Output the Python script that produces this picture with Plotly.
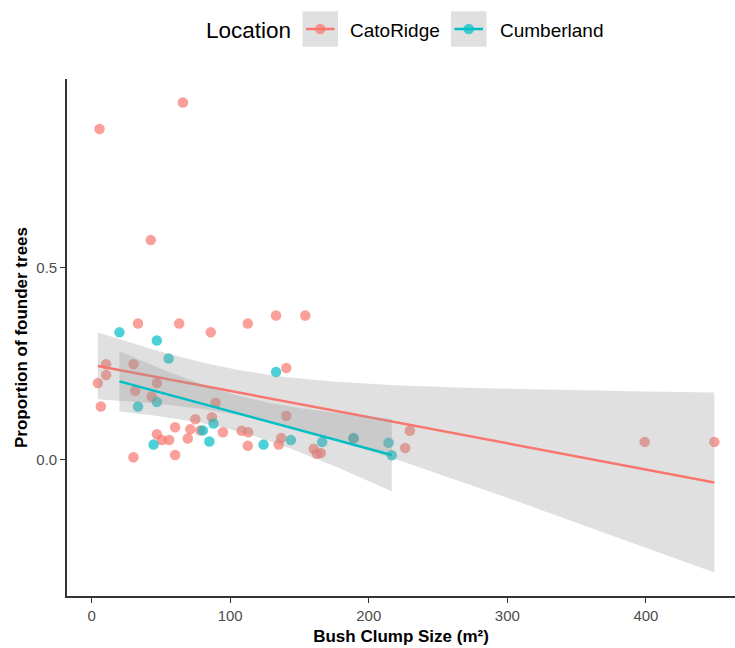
import math
import numpy as np
import plotly.graph_objects as go

# Bush clump size (m²) and proportion of founder trees, per location
cato_size = [5.7, 65.9, 42.7, 33.5, 63.2, 86.0, 112.7, 133.1, 154.2, 140.5,
             10.5, 10.5, 4.5, 6.7, 30.2, 31.5, 47.1, 43.4, 89.4, 60.3,
             47.1, 50.7, 56.0, 30.2, 60.3, 74.8, 86.8, 71.2, 69.4, 78.4,
             94.8, 108.3, 113.0, 112.7, 140.5, 136.8, 135.0, 160.3, 162.6, 165.4,
             189.0, 229.7, 226.3, 399.1, 449.4]
cato_prop = [0.861, 0.930, 0.572, 0.355, 0.355, 0.332, 0.355, 0.376, 0.376, 0.239,
             0.249, 0.221, 0.200, 0.139, 0.249, 0.180, 0.200, 0.165, 0.149, 0.085,
             0.067, 0.052, 0.052, 0.007, 0.013, 0.106, 0.111, 0.080, 0.056, 0.077,
             0.072, 0.076, 0.072, 0.037, 0.115, 0.057, 0.040, 0.029, 0.016, 0.018,
             0.056, 0.076, 0.031, 0.047, 0.047]

cumb_size = [20.1, 47.1, 55.6, 33.5, 47.1, 44.7, 88.0, 80.3, 85.0, 124.1,
             133.1, 143.8, 166.4, 189.0, 214.3, 216.6]
cumb_prop = [0.332, 0.311, 0.264, 0.139, 0.151, 0.040, 0.095, 0.077, 0.048, 0.040,
             0.229, 0.052, 0.047, 0.057, 0.045, 0.012]

locations = ["CatoRidge", "Cumberland"]
colors = {"CatoRidge": "#F8766D", "Cumberland": "#00BFC4"}
point_rgba = {"CatoRidge": "rgba(248,118,109,0.7)", "Cumberland": "rgba(0,191,196,0.7)"}

x_ticks = [0, 100, 200, 300, 400]
y_ticks = [0.0, 0.5]
y_tick_text = ["0.0", "0.5"]

FONT = "Liberation Sans, Arial, sans-serif"
W, H = 735, 648
M_L, M_R, M_T, M_B = 67, 0, 79, 52


def t_quantile(p, df):
    """Student-t quantile by bisection on a numerically integrated CDF."""
    c = math.exp(math.lgamma((df + 1) / 2) - math.lgamma(df / 2)) / math.sqrt(df * math.pi)

    def cdf(t):
        xs = np.linspace(0.0, t, 4001)
        pdf = c * (1 + xs ** 2 / df) ** (-(df + 1) / 2)
        return 0.5 + np.trapezoid(pdf, xs)

    lo, hi = 0.0, 10.0
    for _ in range(60):
        mid = (lo + hi) / 2
        if cdf(mid) < p:
            lo = mid
        else:
            hi = mid
    return (lo + hi) / 2


def lm_band(x, y, n_grid=80, level=0.95):
    """Least-squares line with its confidence band, like geom_smooth(method='lm')."""
    x = np.asarray(x, float)
    y = np.asarray(y, float)
    n = len(x)
    slope, intercept = np.polyfit(x, y, 1)
    resid = y - (intercept + slope * x)
    s = math.sqrt((resid ** 2).sum() / (n - 2))
    xg = np.linspace(x.min(), x.max(), n_grid)
    fit = intercept + slope * xg
    se = s * np.sqrt(1 / n + (xg - x.mean()) ** 2 / ((x - x.mean()) ** 2).sum())
    t = t_quantile(1 - (1 - level) / 2, n - 2)
    return xg, fit, fit - t * se, fit + t * se


def px_x(px):
    """Page pixel column -> paper x."""
    return (px - M_L) / (W - M_L - M_R)


def px_y(py):
    """Page pixel row -> paper y."""
    return (H - M_B - py) / (H - M_T - M_B)


data = {
    "CatoRidge": (cato_size, cato_prop),
    "Cumberland": (cumb_size, cumb_prop),
}

fig = go.Figure()

# points
for loc in locations:
    xs, ys = data[loc]
    fig.add_trace(go.Scatter(
        x=xs, y=ys, mode="markers", name=loc, showlegend=False,
        marker=dict(size=10.5, color=point_rgba[loc], line=dict(width=0)),
        hoverinfo="x+y",
    ))

# fitted lines with confidence ribbons
bands = {}
for loc in locations:
    xs, ys = data[loc]
    xg, fit, lo, hi = lm_band(xs, ys)
    bands[loc] = (lo, hi)
    fig.add_trace(go.Scatter(
        x=np.concatenate([xg, xg[::-1]]), y=np.concatenate([hi, lo[::-1]]),
        mode="lines", fill="toself", fillcolor="rgba(153,153,153,0.3)",
        line=dict(width=0), showlegend=False, hoverinfo="skip",
    ))
    fig.add_trace(go.Scatter(
        x=xg, y=fit, mode="lines", showlegend=False,
        line=dict(color=colors[loc], width=2.5), hoverinfo="skip",
    ))

# y range: data plus ribbons, expanded by 5% either side
all_y = cato_prop + cumb_prop
for lo, hi in bands.values():
    all_y += list(lo) + list(hi)
y_min, y_max = min(all_y), max(all_y)
pad = 0.05 * (y_max - y_min)

x_lo = min(cato_size + cumb_size)
x_hi = max(cato_size + cumb_size)
x_pad = 0.05 * (x_hi - x_lo)

# legend across the top: title, then a grey key with line + point per location
shapes = []
annotations = [dict(
    text="Location", x=px_x(204), y=px_y(30), xref="paper", yref="paper",
    xanchor="left", yanchor="middle", showarrow=False,
    font=dict(family=FONT, size=22.5, color="black"),
)]
key_left = {"CatoRidge": 302.5, "Cumberland": 451.0}
label_left = {"CatoRidge": 348.0, "Cumberland": 498.0}
KEY = 35.5
key_cy = 29.0
for loc in locations:
    x0 = key_left[loc]
    shapes.append(dict(
        type="rect", xref="paper", yref="paper",
        x0=px_x(x0), x1=px_x(x0 + KEY), y0=px_y(key_cy - KEY / 2), y1=px_y(key_cy + KEY / 2),
        fillcolor="#E0E0E0", line=dict(width=0), layer="above",
    ))
    shapes.append(dict(
        type="line", xref="paper", yref="paper",
        x0=px_x(x0 + 3.5), x1=px_x(x0 + KEY - 3.5), y0=px_y(key_cy), y1=px_y(key_cy),
        line=dict(color=colors[loc], width=2.5), layer="above",
    ))
    shapes.append(dict(
        type="circle", xref="paper", yref="paper",
        xsizemode="pixel", ysizemode="pixel",
        xanchor=px_x(x0 + KEY / 2), yanchor=px_y(key_cy),
        x0=-5.3, x1=5.3, y0=-5.3, y1=5.3,
        fillcolor=point_rgba[loc], line=dict(width=0), layer="above",
    ))
    annotations.append(dict(
        text=loc, x=px_x(label_left[loc]), y=px_y(30), xref="paper", yref="paper",
        xanchor="left", yanchor="middle", showarrow=False,
        font=dict(family=FONT, size=19, color="black"),
    ))

axis_common = dict(
    showline=True, linecolor="#333333", linewidth=1.6, mirror=False,
    ticks="outside", ticklen=5, tickwidth=1.3, tickcolor="#333333",
    showgrid=False, zeroline=False, automargin=False,
    tickfont=dict(family=FONT, size=15, color="#4D4D4D"),
)

fig.update_layout(
    width=W, height=H,
    margin=dict(l=M_L, r=M_R, t=M_T, b=M_B),
    paper_bgcolor="white", plot_bgcolor="white",
    font=dict(family=FONT),
    showlegend=False,
    shapes=shapes,
    annotations=annotations,
    xaxis=dict(
        range=[x_lo - x_pad, 464.3], tickvals=x_ticks,
        title=dict(text="<b>Bush Clump Size (m²)</b>", font=dict(family=FONT, size=17, color="black"),
                   standoff=7),
        **axis_common,
    ),
    yaxis=dict(
        range=[y_min - pad, y_max + pad], tickvals=y_ticks, ticktext=y_tick_text,
        title=dict(text="<b>Proportion of founder trees</b>", font=dict(family=FONT, size=17, color="black"),
                   standoff=4),
        **axis_common,
    ),
)

fig.write_html("out.html")
